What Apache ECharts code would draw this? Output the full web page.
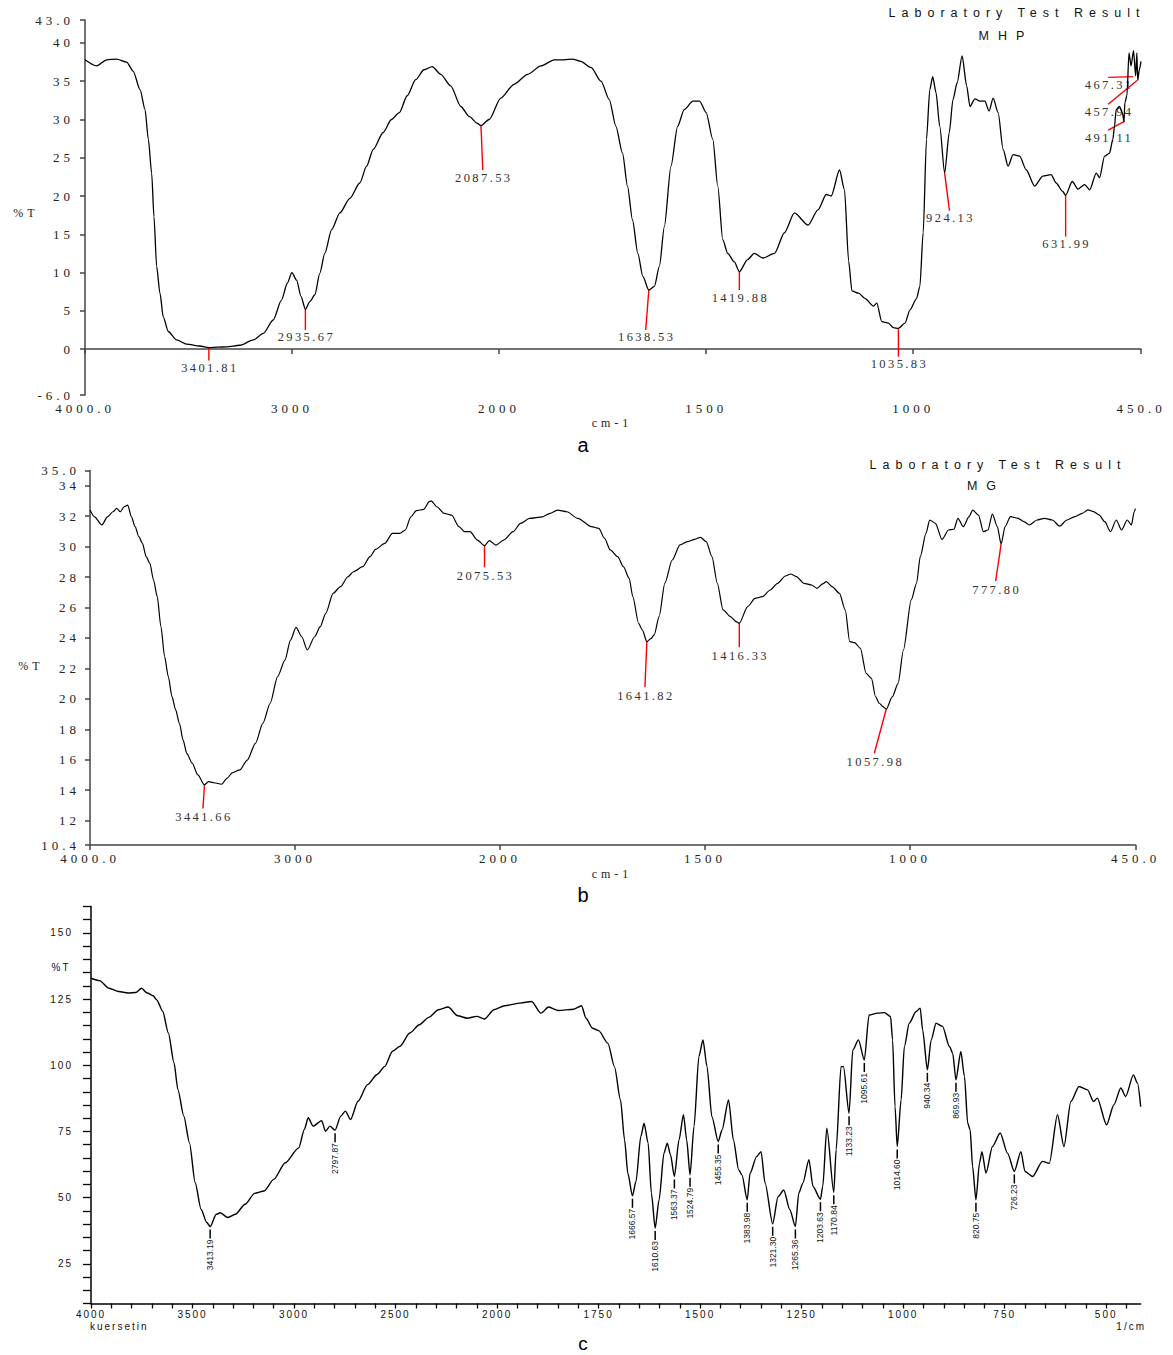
<!DOCTYPE html>
<html><head><meta charset="utf-8">
<script src="https://cdn.jsdelivr.net/npm/echarts/dist/echarts.min.js"></script>
<style>
html,body{margin:0;padding:0;background:#fff}
#chart{width:1173px;height:1355px}
text[style*="SerifTick"]{letter-spacing:4px}
text[style*="SerifPeak"]{letter-spacing:2.4px}
text[style*="SansTitle"]{letter-spacing:6px}
text[style*="SansSub"]{letter-spacing:9px}
text[style*="SansC"]{letter-spacing:2px}
</style></head><body><div id="chart"></div>
<script>
// ---------- DATA ----------
// Panel a: MHP
const mhpWavenumber = [4000,3944,3895,3847,3799,3767,3734,3710,3694,3678,3667,3654,3638,3622,3598,3558,3509,3445,3401.81,3360,3316,3252,3187,3139,3091,3051,3023,3001,2978,2957,2935.67,2914,2890,2866,2842,2809,2769,2721,2673,2640,2608,2560,2520,2482,2444,2403,2363,2323,2282,2234,2185,2145,2105,2087.53,2048,1996,1964,1931,1899,1867,1843,1823,1803,1778,1754,1734,1718,1702,1690,1678,1665,1653,1638.53,1625,1613,1601,1585,1569,1553,1532,1516,1500,1484,1472,1460,1448,1432,1419.88,1400,1384,1363,1335,1311,1287,1254,1230,1210,1198,1178,1166,1156,1148,1132,1116,1096,1088,1076,1060,1048,1035.83,1020,1008,992,984,976,968,960,953,945,936,924.13,913,904,894,882,871,863,851,839,827,817,807,795,783,771,759,743,727,707,687,667,655,639,631.99,616,602,586,574,558,550,538,526,518,514,510,502,495,491.11,489,484,479,474,468,463,460,457.94,454,450];
const mhpTransmittance = [37.8,37.0,37.8,37.9,37.5,36.3,33.9,31.3,27.4,23.0,17.3,10.8,7.3,4.2,2.3,1.2,0.65,0.4,0.2,0.25,0.3,0.5,1.2,2.05,3.8,6.4,8.6,10.0,9.0,6.9,5.2,6.2,7.1,9.9,12.5,15.6,17.8,19.7,21.7,23.9,26.1,28.3,30.0,30.9,33.1,35.2,36.5,36.9,35.9,34.4,31.7,30.4,29.5,29.2,30.0,32.8,34.6,35.9,37.0,37.8,37.8,37.9,37.6,36.8,35.0,32.6,29.1,25.6,21.3,16.9,12.5,9.5,7.7,8.2,10.8,16.0,23.9,29.1,31.3,32.4,32.4,30.9,27.4,21.3,14.3,12.5,11.4,10.1,11.7,12.5,11.9,12.5,15.2,17.8,16.2,18.2,20.2,20.0,23.4,20.8,11.5,7.6,7.3,6.6,5.6,6.0,3.6,3.4,2.8,2.7,3.4,5.1,6.6,8.2,15.2,27.4,33.9,35.6,33.5,29.1,23.0,28.3,32.6,34.8,38.3,34.4,31.7,32.7,32.4,32.4,31.1,32.8,30.9,26.1,23.9,25.4,25.2,23.4,21.3,22.6,22.8,21.7,20.6,20.1,21.9,20.9,21.5,20.8,23.0,22.4,25.2,25.6,27.4,29.1,31.3,31.7,30.9,29.7,32.2,33.1,38.7,37.0,39.0,35.7,38.7,35.1,36.5,37.6];
// [label, peak wavenumber, peak %T, leader end wavenumber, leader end %T]
const mhpPeaks = [
  ['3401.81',3401.81,0.2,3401.81,-1.5],
  ['2935.67',2935.67,5.2,2935.67,2.5],
  ['2087.53',2087.53,29.2,2079,23.4],
  ['1638.53',1638.53,7.7,1646,2.5],
  ['1419.88',1419.88,10.1,1419.88,7.7],
  ['1035.83',1035.83,2.7,1035.83,-1.0],
  ['924.13',924.13,23.0,912.5,18.1],
  ['631.99',631.99,20.1,631.99,14.7],
  ['467.31',469.2,35.6,529.4,35.5],
  ['457.94',459.5,35.1,529.4,32.0],
  ['491.11',489,29.8,529.4,28.6]
];
const mhpYTicks = [-6,0,5,10,15,20,25,30,35,40,43];

// Panel b: MG
const mgWavenumber = [4000,3978,3942,3915,3888,3870,3852,3834,3816,3798,3780,3762,3744,3726,3708,3690,3672,3654,3636,3618,3600,3582,3564,3546,3528,3501,3474,3441.66,3422,3395,3358,3332,3305,3269,3233,3193,3157,3121,3085,3049,3022,2995,2967,2940,2904,2877,2850,2814,2778,2742,2715,2670,2634,2607,2562,2525,2489,2462,2435,2408,2372,2345,2336,2308,2272,2236,2200,2173,2146,2110,2075.53,2052,2020,1991,1968,1950,1928,1896,1878,1860,1837,1810,1777,1759,1745,1731,1713,1699,1685,1676,1662,1653,1641.82,1632,1624,1612,1598,1580,1561,1543,1525,1511,1497,1483,1470,1456,1438,1424,1416.33,1396,1378,1360,1341,1323,1304,1291,1277,1259,1240,1227,1213,1204,1190,1172,1158,1147,1135,1121,1107,1094,1084,1075,1066,1057.98,1043,1029,1016,997,984,975,961,952,938,922,906,893,883,870,856,847,833,821,810,799,787,777.8,768,755,736,722,709,690,672,653,635,617,598,580,566,552,539,525,511,497,484,470,460,453,450];
const mgTransmittance = [32.40,31.96,31.42,31.96,32.29,32.51,32.29,32.62,32.73,31.96,31.31,30.65,30.21,29.34,28.90,27.80,26.71,24.74,22.77,21.46,20.14,19.27,18.39,17.30,16.42,15.76,15.00,14.35,14.56,14.49,14.39,14.78,15.15,15.33,15.98,17.08,18.39,19.71,21.46,22.55,23.86,24.70,24.08,23.21,24.08,24.74,25.62,26.93,27.37,28.02,28.35,28.68,29.34,29.82,30.21,30.87,30.87,31.09,31.96,32.36,32.45,32.95,33.01,32.62,32.18,32.07,31.31,30.98,30.98,30.43,30.06,30.39,30.10,30.43,30.98,31.53,31.85,31.96,32.18,32.40,32.29,31.85,31.31,31.20,30.54,29.78,29.34,28.68,27.92,26.71,24.96,24.53,23.76,23.95,24.20,25.40,27.59,29.12,30.11,30.33,30.48,30.61,30.33,29.34,27.59,25.85,25.40,25.07,24.97,26.06,26.60,26.71,27.15,27.59,28.07,28.20,28.03,27.59,27.48,27.26,27.55,27.70,27.37,26.93,25.85,23.76,23.69,23.32,21.68,21.35,20.14,19.71,19.49,19.32,20.14,21.02,23.21,26.50,27.59,29.34,30.87,31.75,31.53,30.48,31.09,31.14,31.86,31.31,31.97,32.40,32.07,30.98,31.09,32.14,31.31,30.17,31.31,31.97,31.86,31.64,31.42,31.75,31.86,31.75,31.35,31.75,31.97,32.19,32.41,32.30,32.08,31.64,30.98,31.75,31.09,31.75,31.42,32.30,32.5];
const mgPeaks = [
  ['3441.66',3441.66,14.35,3449,12.8],
  ['2075.53',2075.53,30.06,2075.53,28.64],
  ['1641.82',1641.82,23.76,1646.5,20.77],
  ['1416.33',1416.33,24.97,1416.33,23.39],
  ['1057.98',1057.98,19.32,1087,16.43],
  ['777.80',777.8,30.17,791,27.74]
];
const mgYTicks = [10.4,12,14,16,18,20,22,24,26,28,30,32,34,35];
const abXTicks = [4000,3000,2000,1500,1000,450];

// Panel c: kuersetin
const kuerWavenumber = [4000,3958,3911,3864,3817,3780,3751,3723,3694,3676,3647,3619,3591,3572,3543,3515,3487,3458,3430,3413.19,3383,3364,3326,3289,3241,3194,3147,3100,3043,2977,2949,2930,2906,2864,2845,2823,2797.87,2770,2747,2722,2685,2638,2591,2553,2515,2478,2430,2383,2336,2289,2241,2194,2147,2100,2062,2015,1981,1943,1915,1892,1873,1849,1811,1792,1781,1765,1750,1727,1711,1696,1686,1678,1666.57,1658,1646,1638,1628,1620,1610.63,1601,1589,1581,1573,1563.37,1552,1541,1533,1524.79,1515,1503,1493,1483,1471,1455.35,1446,1430,1418,1405,1397,1383.98,1377,1361,1350,1340,1321.3,1308,1294,1279,1265.36,1257,1247,1232,1222,1203.63,1198,1188,1170.84,1165,1153,1147,1133.23,1124,1110,1095.61,1084,1063,1046,1031,1026,1020,1014.6,1005,997,985,968,958,952,940.34,931,919,903,886,878,869.93,858,849,841,835,829,820.75,812,806,796,780,761,743,726.23,710,700,681,657,640,620,604,587,567,546,531,522,499,481,464,452,433,423,415];
const kuerTransmittance = [132.9,132.0,129.1,127.9,127.3,127.5,129.1,127.3,126.3,124.7,120.4,112.2,100.9,90.8,80.8,70.7,55.7,45.6,40.6,39.1,43.7,44.3,42.5,43.7,47.5,51.6,52.5,56.9,63.2,68.8,75.8,80.2,77.0,79.1,75.1,77.0,75.5,80.8,82.7,79.5,86.4,92.7,96.5,99.6,105.3,107.2,112.2,115.3,118.1,121.0,122.0,118.7,117.8,118.5,117.5,121.0,122.5,123.5,124.1,119.7,122.0,120.7,121.2,122.5,117.8,114.0,113.1,108.3,99.5,86.9,71.8,59.2,50.7,56.1,73.1,78.1,70.6,51.7,38.5,49.2,66.8,70.6,66.2,58.0,71.8,81.3,71.8,58.6,76.9,103.3,109.6,99.5,80.6,71.2,75.6,86.9,71.8,60.5,58.6,49.2,59.2,65.5,67.4,55.5,40.1,50.4,52.9,45.4,39.1,51.7,55.5,64.3,54.2,49.4,54.2,76.2,52.0,68.1,99.5,99.5,81.9,105.8,109.6,102.0,119.0,119.7,119.9,118.4,109.6,84.4,69.3,87.0,107.1,115.9,120.3,121.6,113.4,98.3,109.6,115.9,114.7,107.1,104.6,94.5,105.2,95.8,78.1,75.6,61.8,49.2,63.0,67.4,59.3,69.3,74.4,66.8,59.9,67.4,59.9,58.0,63.7,63.0,81.3,69.3,86.3,92.0,90.7,86.3,87.6,77.5,85.1,91.4,88.2,96.4,93.3,84.4];
const kuerPeakLabels = ['3413.19','2797.87','1666.57','1610.63','1563.37','1524.79','1455.35','1383.98','1321.30','1265.36','1203.63','1170.84','1133.23','1095.61','1014.60','940.34','869.93','820.75','726.23'];
const kuerPeakWavenumber = [3413.19,2797.87,1666.57,1610.63,1563.37,1524.79,1455.35,1383.98,1321.30,1265.36,1203.63,1170.84,1133.23,1095.61,1014.60,940.34,869.93,820.75,726.23];
const kuerPeakTransmittance = [39.1,75.5,50.7,38.5,58.0,58.6,71.2,49.2,40.1,39.1,49.4,52.0,81.9,102.0,69.3,98.3,94.5,49.2,59.9];
const cXLabels = [4000,3500,3000,2500,2000,1750,1500,1250,1000,750,500];
const cYLabels = [25,50,75,100,125,150];

// ---------- AXIS TRANSFORM (x scale is twice as wide per cm-1 below 2000) ----------
function u(wn){ return wn >= 2000 ? 4000 - wn : 2000 + 2*(2000 - wn); }
function wnOf(v){ return v <= 2000 ? 4000 - v : 2000 - (v - 2000)/2; }

const F_TICK = 'Liberation Serif, SerifTick';
const F_PEAK = 'Liberation Serif, SerifPeak';
const F_TITLE = 'Liberation Sans, SansTitle';
const F_SUB = 'Liberation Sans, SansSub';
const F_C = 'Liberation Sans, SansC';

function abXAxis(grid){
  return {gridIndex:grid,type:'value',min:0,max:u(450),
    axisLine:{lineStyle:{color:'#444',width:1.5}},splitLine:{show:false},
    axisTick:{customValues:abXTicks.map(u),length:5,lineStyle:{color:'#444',width:1.5}},
    axisLabel:{customValues:abXTicks.map(u),margin:7,fontFamily:F_TICK,fontSize:13,color:'#222',
      formatter:function(v){const w=Math.round(wnOf(v));return (w===4000||w===450)?w.toFixed(1):String(w);}}};
}
function abYAxis(grid,min,max,ticks,fmt,margin){
  return {gridIndex:grid,type:'value',min:min,max:max,
    axisLine:{show:true,lineStyle:{color:'#444',width:1.5}},splitLine:{show:false},
    axisTick:{show:true,customValues:ticks,length:5,lineStyle:{color:'#444',width:1.5}},
    axisLabel:{customValues:ticks,margin:margin,fontFamily:F_TICK,fontSize:13,color:'#222',formatter:fmt}};
}
function spectrum(grid,wns,vals,w){
  return {type:'line',xAxisIndex:grid,yAxisIndex:grid,data:wns.map((x,i)=>[u(x),vals[i]]),
    showSymbol:false,symbol:'none',smooth:0.25,smoothMonotone:'x',silent:true,
    lineStyle:{color:'#000',width:w}};
}
function leaderPeaks(grid,peaks,dy){
  return {type:'custom',xAxisIndex:grid,yAxisIndex:grid,clip:false,silent:true,
    data:peaks.map(p=>[u(p[1]),p[2],u(p[3]),p[4]]),
    renderItem:function(params,api){
      const a=api.coord([api.value(0),api.value(1)]);
      const b=api.coord([api.value(2),api.value(3)]);
      return {type:'group',children:[
        {type:'line',shape:{x1:a[0],y1:a[1],x2:b[0],y2:b[1]},style:{stroke:'#ff0000',lineWidth:1.4}},
        {type:'text',x:b[0]+1,y:b[1]+dy,style:{text:peaks[params.dataIndex][0],align:'center',verticalAlign:'middle',
          fontFamily:F_PEAK,fontSize:12.5,fill:'#333'}}
      ]};
    }};
}

const cTicks=[];for(let v=0;v<=5100;v+=100)cTicks.push(v);
const cYTicks=[];for(let v=10;v<=160;v+=5)cYTicks.push(v);

const chart = echarts.init(document.getElementById('chart'),null,{renderer:'svg'});
chart.setOption({
  animation:false,
  backgroundColor:'#fff',
  grid:[
    {left:85,top:20,width:1056,height:375},
    {left:90,top:470.5,width:1045.5,height:374.5},
    {left:91,top:906.5,width:1049.7,height:397}
  ],
  xAxis:[
    abXAxis(0),abXAxis(1),
    {gridIndex:2,type:'value',min:0,max:u(415),
      axisLine:{lineStyle:{color:'#000',width:1.5}},splitLine:{show:false},
      axisTick:{customValues:cTicks,length:5,lineStyle:{color:'#000',width:1.3}},
      axisLabel:{customValues:cXLabels.map(u),margin:6,fontFamily:F_C,fontSize:10,color:'#111',
        formatter:function(v){return String(Math.round(wnOf(v)));}}}
  ],
  yAxis:[
    abYAxis(0,-6,43,mhpYTicks,function(v){return (v===-6||v===43)?v.toFixed(1):String(v);},11),
    abYAxis(1,10.4,35,mgYTicks,function(v){return (v===10.4||v===35)?v.toFixed(1):String(v);},10),
    {gridIndex:2,type:'value',min:10,max:160,
      axisLine:{show:true,lineStyle:{color:'#000',width:1.5}},splitLine:{show:false},
      axisTick:{show:true,customValues:cYTicks,length:8,lineStyle:{color:'#000',width:1.3}},
      axisLabel:{customValues:cYLabels,margin:18,fontFamily:F_C,fontSize:10,color:'#111'}}
  ],
  series:[
    spectrum(0,mhpWavenumber,mhpTransmittance,1.3),
    spectrum(1,mgWavenumber,mgTransmittance,1.2),
    spectrum(2,kuerWavenumber,kuerTransmittance,1.4),
    leaderPeaks(0,mhpPeaks,7.5),
    leaderPeaks(1,mgPeaks,8.5),
    {type:'custom',xAxisIndex:2,yAxisIndex:2,clip:false,silent:true,
      data:kuerPeakWavenumber.map((w,i)=>[u(w),kuerPeakTransmittance[i]]),
      renderItem:function(params,api){
        const p=api.coord([api.value(0),api.value(1)]);
        return {type:'group',children:[
          {type:'line',shape:{x1:p[0],y1:p[1]+3,x2:p[0],y2:p[1]+12},style:{stroke:'#000',lineWidth:1.5}},
          {type:'text',x:p[0],y:p[1]+13,rotation:Math.PI/2,style:{text:kuerPeakLabels[params.dataIndex],
            align:'right',verticalAlign:'middle',fontFamily:'Liberation Sans',fontSize:8.5,fill:'#111'}}
        ]};
      }}
  ],
  graphic:[
    {type:'text',x:1017,y:13,style:{text:'Laboratory Test Result',align:'center',verticalAlign:'middle',fontFamily:F_TITLE,fontSize:12.5,fill:'#111'}},
    {type:'text',x:1006,y:36,style:{text:'MHP',align:'center',verticalAlign:'middle',fontFamily:F_SUB,fontSize:12.5,fill:'#111'}},
    {type:'text',x:26,y:213,style:{text:'%T',align:'center',verticalAlign:'middle',fontFamily:F_TICK,fontSize:12,fill:'#222'}},
    {type:'text',x:612,y:423,style:{text:'cm-1',align:'center',verticalAlign:'middle',fontFamily:F_TICK,fontSize:12,fill:'#222'}},
    {type:'text',x:583,y:445,style:{text:'a',align:'center',verticalAlign:'middle',fontFamily:'Liberation Sans',fontSize:20,fill:'#000'}},

    {type:'text',x:998,y:465,style:{text:'Laboratory Test Result',align:'center',verticalAlign:'middle',fontFamily:F_TITLE,fontSize:12.5,fill:'#111'}},
    {type:'text',x:986,y:486,style:{text:'MG',align:'center',verticalAlign:'middle',fontFamily:F_SUB,fontSize:12.5,fill:'#111'}},
    {type:'text',x:31,y:666,style:{text:'%T',align:'center',verticalAlign:'middle',fontFamily:F_TICK,fontSize:12,fill:'#222'}},
    {type:'text',x:612,y:874,style:{text:'cm-1',align:'center',verticalAlign:'middle',fontFamily:F_TICK,fontSize:12,fill:'#222'}},
    {type:'text',x:583,y:895,style:{text:'b',align:'center',verticalAlign:'middle',fontFamily:'Liberation Sans',fontSize:20,fill:'#000'}},

    {type:'text',x:61,y:967,style:{text:'%T',align:'center',verticalAlign:'middle',fontFamily:F_C,fontSize:10,fill:'#111'}},
    {type:'text',x:90,y:1326,style:{text:'kuersetin',align:'left',verticalAlign:'middle',fontFamily:F_C,fontSize:10,fill:'#111'}},
    {type:'text',x:1146,y:1326,style:{text:'1/cm',align:'right',verticalAlign:'middle',fontFamily:F_C,fontSize:10,fill:'#111'}},
    {type:'text',x:583,y:1343,style:{text:'c',align:'center',verticalAlign:'middle',fontFamily:'Liberation Sans',fontSize:19,fill:'#000'}}
  ]
});
</script></body></html>
